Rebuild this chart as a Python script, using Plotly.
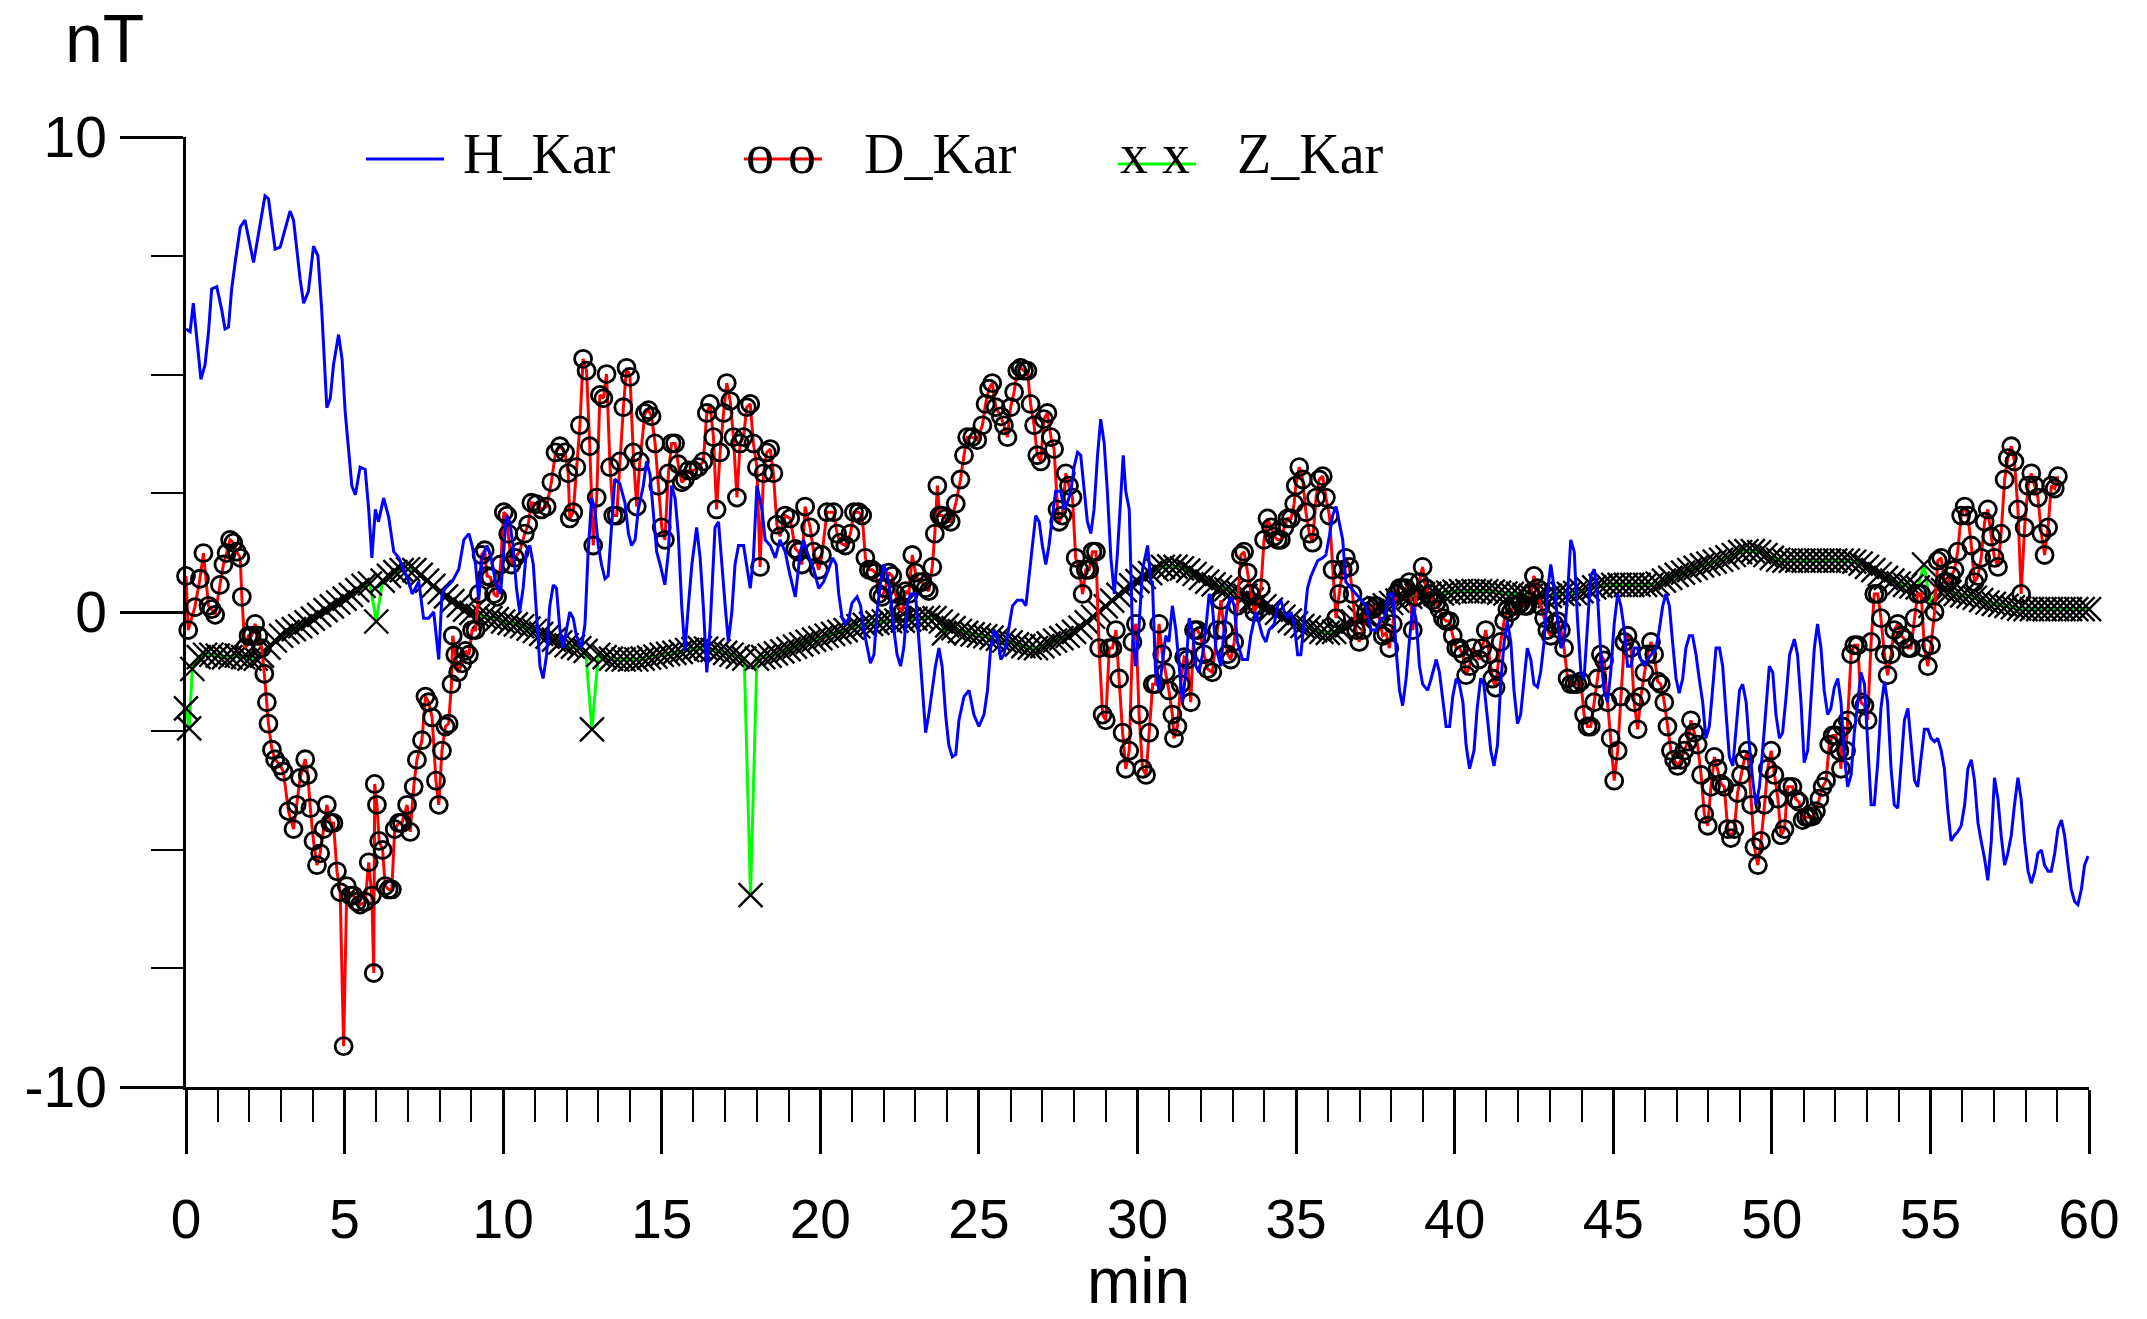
import plotly.graph_objects as go

# ---------------- data (time in minutes, values in nT) ----------------
H_t1 = [0.0,0.13,0.23,0.34,0.47,0.6,0.71,0.81,0.97,1.13,
        1.23,1.34,1.44,1.55,1.71,1.86,1.97,2.13,2.23,2.37,
        2.49,2.6,2.71,2.81,2.97,3.13,3.28,3.39,3.49,3.6,
        3.71,3.86,4.02,4.16,4.28,4.34,4.44,4.55,4.65,4.81,
        4.92,5.02,5.13,5.23,5.34,5.49,5.65,5.76,5.86,5.97,
        6.07,6.23,6.39,6.55,6.71,6.86,7.02,7.13,7.34,7.49,
        7.65,7.81,7.97,8.07,8.18,8.39,8.6,8.76,8.92,9.02,
        9.13,9.23,9.34,9.49,9.6,9.76,9.92]
H_v1 = [5.96,5.9,6.5,5.7,4.9,5.2,5.9,6.8,6.85,6.35,
        5.96,6.0,6.8,7.36,8.1,8.25,7.87,7.36,7.74,8.3,
        8.76,8.7,8.1,7.64,7.68,8.1,8.44,8.25,7.6,7.0,
        6.5,6.75,7.7,7.5,6.35,5.46,4.3,4.5,5.2,5.84,
        5.33,4.2,3.3,2.65,2.47,3.05,3.0,2.16,1.14,2.16,
        1.9,2.4,2.0,1.27,1.14,0.9,0.64,0.38,0.64,-0.13,
        -0.13,0.0,-1.0,0.38,0.5,0.64,0.9,1.52,1.65,1.4,
        1.0,0.25,1.14,1.4,1.2,0.64,0.38]
H_t2 = [10.1,10.21,10.31,10.42,10.52,10.63,10.73,10.84,10.95,11.05,
        11.16,11.26,11.37,11.47,11.58,11.68,11.79,11.89,12.0,12.1,
        12.21,12.31,12.47,12.58,12.68,12.79,12.89,13.0,13.1,13.21,
        13.31,13.42,13.52,13.68,13.84,13.95,14.05,14.16,14.26,14.42,
        14.52,14.63,14.73,14.84,14.95,15.1,15.21,15.31,15.42,15.52,
        15.63,15.73,15.84,15.95,16.1,16.21,16.31,16.42,16.52,16.68,
        16.79,16.89,17.0,17.1,17.21,17.31,17.42,17.58,17.68,17.79,
        17.89,18.0,18.16,18.26,18.42,18.58,18.73,18.89,19.05,19.21,
        19.37,19.47,19.58,19.79,19.95,20.1,20.26]
H_v2 = [2.03,1.9,1.4,0.5,0.0,0.5,1.27,1.4,1.0,-0.13,
        -1.14,-1.4,-0.9,0.13,0.57,0.5,-0.38,-0.76,-0.38,0.0,
        -0.13,-0.5,-0.76,-0.25,1.27,2.4,2.16,1.4,1.0,0.7,
        0.76,1.9,2.8,2.7,2.3,1.65,1.4,1.52,2.16,2.66,
        3.17,2.9,2.03,1.27,1.0,0.57,1.27,2.66,2.4,1.65,
        0.13,-0.82,0.13,1.0,1.78,1.14,0.13,-1.27,-0.38,1.78,
        1.9,1.0,0.13,-0.63,0.0,1.0,1.4,1.4,1.0,0.5,
        1.14,2.66,2.16,1.52,1.4,1.14,1.52,1.27,0.76,0.32,
        1.27,1.52,1.27,0.9,0.5,0.63,0.9]
H_t3 = [20.39,20.5,20.58,20.69,20.79,20.9,21.0,21.16,21.27,21.37,
        21.48,21.58,21.69,21.79,21.9,22.0,22.11,22.21,22.32,22.42,
        22.53,22.63,22.74,22.84,23.0,23.11,23.21,23.32,23.42,23.53,
        23.63,23.74,23.84,23.95,24.05,24.16,24.27,24.37,24.53,24.69,
        24.84,25.0,25.16,25.27,25.37,25.48,25.58,25.69,25.79,25.9,
        26.06,26.21,26.37,26.48,26.58,26.69,26.79,26.9,27.0,27.11,
        27.21,27.32,27.42,27.58,27.69,27.79,27.9,28.0,28.11,28.21,
        28.32,28.42,28.53,28.63,28.74,28.84,28.95,29.05,29.16,29.27,
        29.37,29.48,29.55,29.63,29.74,29.84,29.93,30.03,30.16,30.32,
        30.42]
H_v3 = [1.14,1.0,0.38,-0.13,-0.25,-0.13,0.19,0.32,0.13,-0.38,
        -0.76,-1.08,-0.9,0.0,0.63,1.0,0.76,0.38,-0.38,-0.9,
        -1.14,-0.76,0.13,0.38,0.38,-0.63,-1.65,-2.54,-2.16,-1.65,
        -1.14,-0.76,-1.14,-2.16,-2.8,-3.05,-3.0,-2.28,-1.78,-1.65,
        -2.16,-2.41,-2.16,-1.65,-0.76,-0.38,-0.5,-1.0,-0.9,-0.5,
        0.13,0.25,0.25,0.13,0.76,1.4,2.03,1.9,1.4,1.0,
        1.4,2.03,2.54,2.54,2.16,2.3,2.54,3.05,3.36,3.3,
        2.54,1.9,1.65,2.16,3.3,4.06,3.55,2.54,1.14,0.38,
        1.27,2.54,3.3,2.54,2.16,-0.38,-1.14,-0.5,0.9,1.4,
        0.63]
H_t4 = [30.47,30.57,30.68,30.78,30.89,30.99,31.1,31.21,31.31,31.42,
        31.52,31.63,31.73,31.84,31.94,32.05,32.15,32.26,32.36,32.47,
        32.63,32.73,32.84,32.94,33.05,33.15,33.31,33.47,33.57,33.73,
        33.84,33.94,34.05,34.15,34.31,34.42,34.52,34.63,34.73,34.84,
        34.94,35.05,35.15,35.26,35.36,35.47,35.57,35.68,35.84,35.94,
        36.05,36.15,36.26,36.36,36.47,36.57,36.73,36.89,37.05,37.21,
        37.36,37.52,37.68,37.78,37.94,38.05,38.15,38.26,38.36,38.47,
        38.57,38.68,38.78,38.89,38.99,39.15,39.26,39.42,39.52,39.63,
        39.73,39.84,39.94,40.05,40.15,40.26,40.36,40.47,40.57]
H_v4 = [0.63,-1.27,-1.65,-1.14,-0.5,-0.63,0.13,-0.38,-1.14,-1.9,
        -1.27,-0.13,-0.38,-1.14,-1.27,-0.9,-0.38,0.38,0.13,-0.76,
        -1.14,-0.38,0.13,0.32,0.13,-0.63,-1.0,-1.0,-0.5,0.0,
        -0.25,-0.5,-0.63,-0.38,-0.25,0.13,0.25,0.0,-0.13,0.0,
        -0.25,-0.9,-0.9,-0.13,0.5,0.76,0.9,1.08,1.14,1.2,
        1.6,2.03,2.22,1.9,1.52,0.63,0.5,0.38,0.25,0.13,
        -0.38,-0.38,-0.13,-0.13,0.38,0.38,-0.76,-1.65,-1.97,-1.4,
        -0.63,0.13,-0.13,-1.14,-1.52,-1.65,-1.4,-1.0,-1.27,-1.9,
        -2.41,-2.41,-1.78,-1.4,-1.52,-1.9,-2.8,-3.3,-3.05]
H_t5 = [40.61,40.71,40.82,40.92,41.03,41.14,41.24,41.35,41.45,41.56,
        41.66,41.77,41.87,41.98,42.08,42.19,42.29,42.4,42.5,42.61,
        42.71,42.82,42.92,43.03,43.14,43.24,43.35,43.45,43.56,43.66,
        43.77,43.87,43.98,44.08,44.19,44.29,44.4,44.5,44.61,44.71,
        44.82,44.92,45.03,45.14,45.24,45.35,45.45,45.56,45.66,45.77,
        45.87,45.98,46.08,46.19,46.35,46.45,46.56,46.66,46.77,46.87,
        46.98,47.08,47.19,47.29,47.4,47.5,47.61,47.71,47.82,47.92,
        48.03,48.13,48.24,48.35,48.45,48.56,48.66,48.77,48.87,48.98,
        49.08,49.19,49.29,49.4,49.5,49.61,49.71,49.82,49.92,50.03,
        50.13,50.24,50.34,50.45,50.56]
H_v5 = [-2.92,-2.03,-1.4,-1.52,-2.16,-2.92,-3.24,-2.8,-1.52,-0.63,
        -0.19,-0.63,-1.65,-2.35,-2.16,-1.4,-0.76,-1.0,-1.52,-1.58,
        -1.27,-0.63,0.38,1.0,0.5,-0.13,-0.76,-0.63,0.38,1.52,
        1.27,-0.13,-1.27,-1.4,-0.38,0.76,0.9,0.38,-0.9,-1.65,
        -1.9,-1.27,-0.25,0.38,0.13,-0.38,-1.14,-1.14,-0.76,-0.76,
        -1.0,-1.14,-1.0,-0.9,-0.76,-0.38,0.13,0.38,0.13,-0.63,
        -1.4,-1.71,-1.4,-0.76,-0.5,-0.5,-0.9,-1.4,-1.9,-2.66,
        -2.41,-1.65,-0.76,-0.76,-1.14,-2.16,-3.05,-3.24,-2.54,-1.65,
        -1.52,-1.9,-2.8,-3.55,-4.06,-3.68,-2.92,-1.9,-1.14,-1.27,
        -2.16,-2.66,-2.54,-1.78,-0.9]
H_t6 = [50.71,50.81,50.92,51.02,51.13,51.23,51.34,51.44,51.55,51.65,
        51.76,51.86,51.97,52.08,52.18,52.29,52.39,52.5,52.6,52.71,
        52.81,52.92,53.02,53.13,53.23,53.34,53.44,53.55,53.65,53.76,
        53.86,53.97,54.08,54.18,54.29,54.39,54.5,54.6,54.71,54.81,
        54.92,55.02,55.13,55.23,55.34,55.44,55.55,55.65,55.76,55.86,
        55.97,56.08,56.18,56.29,56.39,56.5,56.6,56.71,56.81,56.92,
        57.02,57.13,57.23,57.34,57.44,57.55,57.65,57.76,57.86,57.97,
        58.08,58.18,58.29,58.39,58.5,58.6,58.71,58.81,58.92,59.02,
        59.13,59.23,59.34,59.44,59.55,59.65,59.76,59.86,59.97]
H_v6 = [-0.57,-0.9,-1.9,-3.17,-2.92,-1.9,-0.76,-0.25,-0.76,-1.65,
        -2.16,-2.03,-1.59,-1.4,-1.9,-3.05,-3.68,-3.43,-2.54,-1.9,
        -1.27,-1.52,-2.8,-4.06,-4.06,-3.17,-2.03,-1.46,-1.9,-3.3,
        -4.06,-4.13,-3.17,-2.28,-2.03,-2.8,-3.55,-3.68,-3.05,-2.47,
        -2.47,-2.66,-2.73,-2.66,-2.92,-3.3,-4.19,-4.82,-4.7,-4.63,
        -4.5,-4.06,-3.3,-3.11,-3.55,-4.44,-4.82,-5.2,-5.65,-4.82,
        -3.49,-3.94,-4.7,-5.33,-5.08,-4.7,-4.06,-3.49,-3.94,-4.82,
        -5.46,-5.71,-5.46,-5.08,-5.01,-5.33,-5.46,-5.46,-5.08,-4.57,
        -4.38,-4.7,-5.33,-5.84,-6.1,-6.16,-5.84,-5.33,-5.14]

D_t1 = [0.0,0.07,0.28,0.44,0.55,0.71,0.81,0.92,1.07,1.18,
        1.28,1.39,1.49,1.6,1.71,1.76,1.86,1.97,2.07,2.18,
        2.28,2.39,2.47,2.55,2.6,2.71,2.81,2.97,3.07,3.23,
        3.39,3.49,3.6,3.76,3.84,3.92,4.02,4.13,4.23,4.34,
        4.44,4.55,4.65,4.76,4.86,4.97,5.07,5.18,
        5.28,5.39,5.49,5.65,5.76,5.86,5.92,5.95,6.02,6.09,
        6.2,6.28,6.39,6.49,6.58,6.71,6.81,6.97,7.07,7.18,
        7.28,7.44,7.55,7.65,7.76,7.88,7.97,8.07,8.18,8.28,
        8.37,8.41,8.49,8.58,8.71,8.81,8.92,9.02,9.13,9.23,
        9.32,9.42,9.49,9.6,9.71,9.81,9.92,10.02,10.13]
D_v1 = [0.76,-0.38,0.1,0.7,1.24,0.13,0.06,-0.06,0.57,1.0,
        1.24,1.52,1.46,1.27,1.14,0.32,-0.76,-0.5,-0.5,-0.25,
        -0.5,-0.76,-1.3,-1.9,-2.35,-2.9,-3.1,-3.23,-3.36,-4.19,
        -4.57,-4.06,-3.49,-3.1,-3.43,-4.13,-4.82,-5.33,-5.08,-4.57,
        -4.06,-4.44,-4.44,-5.46,-5.9,-9.14,-5.77,-5.97,
        -5.97,-6.1,-6.16,-6.1,-5.27,-5.97,-7.6,-3.62,-4.06,-4.82,
        -5.01,-5.77,-5.84,-5.84,-4.57,-4.44,-4.44,-4.06,-4.63,-3.68,
        -3.11,-2.7,-1.78,-1.9,-2.22,-3.55,-4.06,-2.92,-2.41,-2.35,
        -1.52,-0.5,-0.9,-1.27,-1.08,-0.82,-0.9,-0.38,-0.38,0.38,
        1.2,1.3,0.76,0.73,0.38,0.32,1.0,2.1,2.03]
D_t2 = [10.16,10.26,10.37,10.52,10.68,10.79,10.89,11.05,11.21,11.37,
        11.52,11.65,11.79,11.95,12.05,12.1,12.21,12.31,12.42,12.52,
        12.63,12.73,12.84,12.95,13.05,13.16,13.26,13.37,13.47,13.58,
        13.68,13.79,13.89,14.0,14.1,14.21,14.31,14.47,14.58,14.68,
        14.79,14.89,15.0,15.1,15.21,15.31,15.42,15.52,15.63,15.73,
        15.84,16.0,16.16,16.31,16.42,16.52,16.63,16.73,16.84,16.95,
        17.05,17.16,17.26,17.37,17.47,17.58,17.68,17.79,17.89,18.0,
        18.1,18.21,18.31,18.42,18.52,18.63,18.73,18.89,19.05,19.21,
        19.31,19.42,19.52,19.68,19.79,19.95,20.05,20.21]
D_v2 = [1.65,1.0,1.14,1.27,1.65,1.84,2.3,2.27,2.16,2.22,
        2.73,3.36,3.49,3.36,2.92,1.97,2.1,3.05,3.93,5.33,
        5.08,3.49,1.4,2.41,4.57,4.5,5.01,3.05,2.03,2.03,
        3.17,4.31,5.14,4.95,3.36,2.22,3.17,4.19,4.25,4.12,
        3.55,2.66,1.78,1.52,2.92,3.55,3.55,3.11,2.73,2.79,
        2.98,2.98,3.05,3.17,4.19,4.38,3.68,2.16,3.36,4.19,
        4.82,4.44,3.68,2.41,3.55,3.68,4.31,4.38,3.55,3.05,
        0.95,2.92,3.36,3.43,2.92,1.84,1.59,2.03,1.97,1.33,
        1.27,1.0,2.22,1.78,1.27,0.89,1.2,2.1]
D_t3 = [20.42,20.53,20.63,20.79,20.95,21.06,21.21,21.32,21.42,21.53,
        21.63,21.74,21.84,21.95,22.05,22.16,22.27,22.37,22.48,22.58,
        22.69,22.79,22.9,23.0,23.11,23.21,23.32,23.42,23.53,23.61,
        23.69,23.76,23.84,23.95,24.11,24.27,24.42,24.53,24.63,24.79,
        24.95,25.11,25.21,25.32,25.42,25.53,25.69,25.79,25.9,26.0,
        26.11,26.21,26.32,26.42,26.53,26.63,26.74,26.84,26.95,27.05,
        27.16,27.27,27.37,27.48,27.53,27.63,27.74,27.84,27.95,28.05,
        28.16,28.27,28.37,28.48,28.58,28.69,28.79,28.9,29.0,29.11,
        29.21,29.32,29.42,29.53,29.63,29.74,29.84,29.95,30.05,30.16,
        30.27,30.37,30.48]
D_v3 = [2.1,1.65,1.46,1.4,1.65,2.1,2.1,2.03,1.14,0.89,
        0.89,0.83,0.38,0.32,0.5,0.83,0.76,0.38,0.1,0.0,
        0.44,0.38,1.2,0.83,0.63,0.63,0.5,0.44,0.95,1.65,
        2.66,2.03,2.03,1.97,1.9,2.28,2.79,3.3,3.68,3.68,
        3.62,3.93,4.38,4.7,4.82,4.31,4.12,3.93,3.68,4.31,
        4.63,5.08,5.14,5.08,5.08,4.38,3.93,3.3,3.17,4.06,
        4.19,3.68,3.43,2.16,1.9,2.03,2.92,2.66,2.41,1.14,
        0.89,0.38,0.89,0.89,1.27,1.27,-0.76,-2.16,-2.28,-0.76,
        -0.76,-0.38,-1.4,-2.54,-3.3,-2.92,-0.63,-0.25,-2.16,-3.3,
        -3.43,-2.54,-1.52]
D_t4 = [30.57,30.68,30.78,30.89,30.99,31.1,31.15,31.26,31.36,31.47,
        31.57,31.68,31.78,31.89,31.99,32.1,32.21,32.36,32.52,32.63,
        32.73,32.84,32.94,33.05,33.15,33.26,33.36,33.47,33.57,33.68,
        33.78,33.89,33.99,34.1,34.21,34.31,34.42,34.52,34.63,34.73,
        34.84,34.94,34.99,35.1,35.21,35.31,35.42,35.52,35.63,35.73,
        35.84,35.94,36.05,36.15,36.26,36.36,36.47,36.57,36.68,36.78,
        36.89,36.99,37.1,37.21,37.31,37.42,37.52,37.63,37.73,37.84,
        37.94,38.05,38.15,38.26,38.36,38.47,38.57,38.68,38.78,38.89,
        38.99,39.1,39.21,39.31,39.42,39.52,39.63,39.73,39.84,39.94,
        40.05,40.15,40.26,40.36,40.47,40.57]
D_v4 = [-1.52,-0.25,-0.89,-1.27,-1.65,-2.16,-2.66,-2.41,-1.52,-0.95,
        -1.0,-1.9,-0.38,-0.38,-0.5,-0.89,-1.2,-1.27,-0.38,0.25,
        -0.38,-0.89,-1.0,-0.63,0.13,1.2,1.27,0.83,0.38,0.0,
        0.13,0.5,1.52,1.97,1.78,1.59,1.52,1.52,1.78,1.97,
        1.97,2.28,2.66,3.05,2.79,2.1,1.65,1.46,2.41,2.79,
        2.86,2.41,2.03,0.89,-0.13,0.38,0.89,1.14,0.95,0.38,
        -0.38,-0.63,-0.38,0.0,0.13,0.06,0.13,-0.13,-0.5,-0.44,
        -0.76,-0.25,0.38,0.5,0.5,0.5,0.63,-0.38,0.32,0.63,
        0.95,0.5,0.38,0.25,0.19,0.06,-0.13,-0.19,-0.19,-0.5,
        -0.76,-0.76,-0.89,-1.33,-1.14,-0.76]
D_t5 = [40.77,40.87,40.98,41.08,41.19,41.29,41.35,41.45,41.56,41.66,
        41.77,41.87,41.98,42.08,42.19,42.29,42.4,42.5,42.61,42.71,
        42.82,42.92,43.03,43.14,43.24,43.35,43.45,43.56,43.66,43.77,
        43.87,43.98,44.08,44.19,44.29,44.4,44.5,44.61,44.71,44.82,
        44.92,45.03,45.14,45.24,45.35,45.45,45.56,45.66,45.77,45.87,
        45.98,46.08,46.19,46.29,46.4,46.5,46.61,46.71,46.82,46.92,
        47.03,47.14,47.24,47.35,47.45,47.56,47.66,47.77,47.87,47.98,
        48.08,48.19,48.29,48.4,48.5,48.61,48.71,48.82,48.92,49.03,
        49.13,49.24,49.35,49.45,49.56,49.66,49.77,49.87,49.98,50.08,
        50.19,50.29,50.4,50.5]
D_v5 = [-1.0,-0.76,-0.38,-0.89,-1.4,-1.59,-1.2,-0.63,-0.19,0.06,
        0.0,0.13,0.13,0.19,0.13,0.13,0.38,0.76,0.5,0.13,
        -0.13,-0.38,-0.5,-0.25,-0.19,-0.38,-0.76,-1.4,-1.52,-1.52,
        -1.52,-1.46,-2.16,-2.41,-2.41,-1.9,-1.4,-0.89,-1.02,-1.9,
        -2.66,-3.55,-2.92,-1.78,-0.63,-0.5,-0.76,-1.9,-2.47,-1.78,
        -1.27,-0.89,-0.63,-0.89,-1.46,-1.52,-1.9,-2.41,-2.92,-3.11,
        -3.24,-3.11,-2.92,-2.73,-2.28,-2.54,-2.79,-3.43,-4.25,-4.5,
        -3.68,-3.05,-3.3,-3.62,-3.68,-4.57,-4.76,-4.57,-3.81,-3.43,
        -3.11,-2.92,-4.06,-4.95,-5.33,-4.82,-4.06,-3.3,-2.92,-3.43,
        -3.93,-4.7,-4.57,-3.68]
D_t6 = [50.65,50.76,50.86,50.97,51.08,51.18,51.29,51.39,51.5,51.6,
        51.71,51.81,51.92,52.02,52.13,52.18,52.23,52.34,52.39,52.5,
        52.6,52.71,52.81,52.92,53.02,53.13,53.23,53.34,53.44,53.55,
        53.65,53.76,53.86,53.97,54.08,54.18,54.29,54.39,54.5,54.6,
        54.71,54.81,54.92,55.02,55.13,55.23,55.34,55.44,55.55,55.65,
        55.76,55.86,55.97,56.08,56.18,56.29,56.39,56.5,56.6,56.71,
        56.81,56.92,57.02,57.13,57.23,57.34,57.44,57.55,57.65,57.76,
        57.86,57.97,58.08,58.18,58.29,58.39,58.5,58.6,58.71,58.81,
        58.92,59.02]
D_v6 = [-3.68,-3.94,-4.0,-4.38,-4.32,-4.32,-4.3,-4.19,-3.93,-3.68,
        -3.55,-2.79,-2.6,-2.6,-2.92,-3.3,-2.41,-2.92,-2.28,-0.89,
        -0.7,-0.7,-1.9,-1.97,-2.28,-0.63,0.38,0.38,-0.13,-0.89,
        -1.33,-0.89,-0.38,-0.25,-0.5,-0.57,-0.76,-0.76,-0.13,0.38,
        0.38,-0.76,-1.14,-0.7,0.0,1.08,1.14,0.63,0.63,0.76,
        0.89,1.27,2.03,2.22,2.03,1.4,0.63,0.76,1.14,1.9,
        2.16,1.59,1.14,0.95,1.65,2.79,3.24,3.49,3.17,2.16,
        0.38,1.78,2.66,2.92,2.66,2.41,1.65,1.2,1.78,2.66,
        2.6,2.86]

# Z_Kar sampled every 0.2 min (0.0 ... 60.0) plus a few extra samples
Z_STEP = 0.2
Z_grid_v = [-2.03,-1.2,-0.95,-0.9,-0.9,-0.92,-0.95,-0.95,-0.92,-0.95,
            -0.98,-0.98,-0.92,-0.75,-0.6,-0.5,-0.42,-0.36,-0.3,-0.22,
            -0.14,-0.06,0.04,0.12,0.2,0.28,0.36,0.46,0.55,0.6,
            -0.2,0.66,0.76,0.84,0.88,0.9,0.88,0.78,0.66,0.55,
            0.42,0.33,0.23,0.14,0.05,-0.02,-0.08,-0.1,-0.13,-0.15,
            -0.2,-0.23,-0.26,-0.3,-0.35,-0.4,-0.46,-0.52,-0.58,-0.64,
            -0.7,-0.73,-0.76,-0.82,-2.47,-0.9,-0.95,-0.98,-1.0,-1.0,
            -1.0,-1.0,-0.98,-0.96,-0.94,-0.9,-0.88,-0.86,-0.84,-0.8,
            -0.78,-0.76,-0.77,-0.8,-0.83,-0.86,-0.9,-0.94,-0.98,-5.96,
            -0.98,-0.95,-0.92,-0.87,-0.83,-0.78,-0.73,-0.68,-0.63,-0.58,
            -0.55,-0.5,-0.46,-0.42,-0.38,-0.33,-0.3,-0.27,-0.25,-0.23,
            -0.2,-0.19,-0.18,-0.18,-0.16,-0.14,-0.13,-0.12,-0.13,-0.2,
            -0.28,-0.34,-0.4,-0.44,-0.47,-0.49,-0.51,-0.54,-0.56,-0.6,
            -0.64,-0.68,-0.72,-0.75,-0.76,-0.72,-0.66,-0.6,-0.55,-0.5,
            -0.42,-0.33,-0.22,-0.1,0.0,0.12,0.24,0.36,0.46,0.56,
            0.65,0.74,0.82,0.9,0.95,0.96,0.95,0.92,0.87,0.8,
            0.72,0.64,0.58,0.52,0.48,0.44,0.4,0.34,0.26,0.19,
            0.12,0.05,-0.02,-0.1,-0.18,-0.24,-0.29,-0.33,-0.38,-0.42,
            -0.44,-0.42,-0.36,-0.28,-0.2,-0.12,-0.05,0.02,0.08,0.14,
            0.19,0.24,0.28,0.32,0.35,0.37,0.38,0.38,0.39,0.41,
            0.43,0.44,0.44,0.44,0.44,0.44,0.43,0.41,0.39,0.38,
            0.38,0.36,0.34,0.33,0.32,0.34,0.37,0.38,0.38,0.4,
            0.44,0.48,0.52,0.55,0.57,0.57,0.57,0.57,0.57,0.57,
            0.57,0.57,0.6,0.66,0.72,0.78,0.83,0.88,0.93,0.98,
            1.02,1.06,1.1,1.15,1.2,1.26,1.28,1.28,1.26,1.2,
            1.14,1.1,1.08,1.08,1.08,1.08,1.08,1.08,1.08,1.08,
            1.08,1.08,1.08,1.06,1.02,0.95,0.88,0.8,0.72,0.66,
            0.6,0.57,0.54,0.52,1.0,0.13,0.5,0.46,0.42,0.38,
            0.35,0.33,0.3,0.25,0.2,0.17,0.15,0.13,0.1,0.07,
            0.06,0.06,0.06,0.06,0.06,0.06,0.06,0.06,0.06,0.06,
            0.06]
Z_extra_t = [0.1, 23.9]
Z_extra_v = [-2.45, -0.45]

SERIES_NAMES = ["H_Kar", "D_Kar", "Z_Kar"]
X_TICKS = [0, 5, 10, 15, 20, 25, 30, 35, 40, 45, 50, 55, 60]
Y_TICKS = [-10, 0, 10]
Y_TICK_TEXT = ["-10", "0", "10"]

# ---------------- assemble ----------------
H_t = H_t1 + H_t2 + H_t3 + H_t4 + H_t5 + H_t6
H_v = H_v1 + H_v2 + H_v3 + H_v4 + H_v5 + H_v6
D_t = D_t1 + D_t2 + D_t3 + D_t4 + D_t5 + D_t6
D_v = D_v1 + D_v2 + D_v3 + D_v4 + D_v5 + D_v6
n = min(len(H_t), len(H_v)); H_t, H_v = H_t[:n], H_v[:n]
n = min(len(D_t), len(D_v)); D_t, D_v = D_t[:n], D_v[:n]
Z_pairs = [(round(i * Z_STEP, 2), v) for i, v in enumerate(Z_grid_v)]
Z_pairs += list(zip(Z_extra_t, Z_extra_v))
Z_pairs.sort(key=lambda p: p[0])
Z_t = [p[0] for p in Z_pairs]
Z_v = [p[1] for p in Z_pairs]

FIG_W, FIG_H = 2147, 1319
M_L, M_R, M_T, M_B = 186, 58, 137, 232
PLOT_W = FIG_W - M_L - M_R
PLOT_H = FIG_H - M_T - M_B


def px(x):
    return (x - M_L) / PLOT_W


def py(y):
    return (FIG_H - M_B - y) / PLOT_H


SANS = "Liberation Sans, Arial, sans-serif"
SERIF = "Liberation Serif, Times New Roman, serif"

fig = go.Figure()
fig.add_trace(go.Scatter(
    x=Z_t, y=Z_v, mode="lines+markers", name=SERIES_NAMES[2],
    line=dict(color="#00ff00", width=3),
    marker=dict(symbol="x-thin", size=24, color="black",
                line=dict(color="black", width=2.4)),
    cliponaxis=False, showlegend=False))
fig.add_trace(go.Scatter(
    x=D_t, y=D_v, mode="lines+markers", name=SERIES_NAMES[1],
    line=dict(color="#ff0000", width=3),
    marker=dict(symbol="circle-open", size=17, color="black",
                line=dict(color="black", width=2.8)),
    cliponaxis=False, showlegend=False))
fig.add_trace(go.Scatter(
    x=H_t, y=H_v, mode="lines", name=SERIES_NAMES[0],
    line=dict(color="#0000ff", width=3),
    cliponaxis=False, showlegend=False))

# ---------------- legend (drawn manually) ----------------
shapes = [
    dict(type="line", xref="paper", yref="paper", x0=px(366), x1=px(444),
         y0=py(159), y1=py(159), line=dict(color="#0000ff", width=3)),
    dict(type="line", xref="paper", yref="paper", x0=px(744), x1=px(822),
         y0=py(159), y1=py(159), line=dict(color="#ff0000", width=3)),
    dict(type="line", xref="paper", yref="paper", x0=px(1118), x1=px(1196),
         y0=py(164), y1=py(164), line=dict(color="#00ff00", width=3)),
]
annotations = [
    dict(text=SERIES_NAMES[0], x=px(461), y=py(154), xanchor="left", yanchor="middle"),
    dict(text="o o", x=px(781), y=py(154), xanchor="center", yanchor="middle"),
    dict(text=SERIES_NAMES[1], x=px(862), y=py(154), xanchor="left", yanchor="middle"),
    dict(text="x x", x=px(1155), y=py(154), xanchor="center", yanchor="middle"),
    dict(text=SERIES_NAMES[2], x=px(1235), y=py(154), xanchor="left", yanchor="middle"),
]
for a in annotations:
    a.update(xref="paper", yref="paper", showarrow=False,
             font=dict(family=SERIF, size=56, color="black"))
annotations += [
    dict(text="nT", x=px(104), y=py(38), xref="paper", yref="paper",
         showarrow=False, xanchor="center", yanchor="middle",
         font=dict(family=SANS, size=68, color="black")),
    dict(text="min", x=px(1138), y=py(1281), xref="paper", yref="paper",
         showarrow=False, xanchor="center", yanchor="middle",
         font=dict(family=SANS, size=64, color="black")),
]

fig.update_layout(
    width=FIG_W, height=FIG_H, autosize=False,
    margin=dict(l=M_L, r=M_R, t=M_T, b=M_B, pad=0),
    paper_bgcolor="white", plot_bgcolor="white",
    showlegend=False, hovermode=False,
    shapes=shapes, annotations=annotations,
    xaxis=dict(
        range=[0, 60], showline=True, linecolor="black", linewidth=2.5,
        mirror=False, showgrid=False, zeroline=False,
        tickmode="array", tickvals=X_TICKS, ticktext=[str(v) for v in X_TICKS],
        ticks="outside", ticklen=64, tickwidth=2.5, tickcolor="black",
        minor=dict(ticks="outside", ticklen=32, tickwidth=2, tickcolor="black",
                   tickmode="linear", tick0=0, dtick=1, showgrid=False),
        tickfont=dict(family=SANS, size=55, color="black"),
        ticklabelstandoff=18, fixedrange=True),
    yaxis=dict(
        range=[-10, 10], showline=True, linecolor="black", linewidth=2.5,
        mirror=False, showgrid=False, zeroline=False,
        tickmode="array", tickvals=Y_TICKS, ticktext=Y_TICK_TEXT,
        ticks="outside", ticklen=63, tickwidth=2.5, tickcolor="black",
        minor=dict(ticks="outside", ticklen=32, tickwidth=2, tickcolor="black",
                   tickmode="linear", tick0=-10, dtick=2.5, showgrid=False),
        tickfont=dict(family=SANS, size=57, color="black"),
        ticklabelstandoff=2, fixedrange=True),
)

fig.write_html("out.html")
